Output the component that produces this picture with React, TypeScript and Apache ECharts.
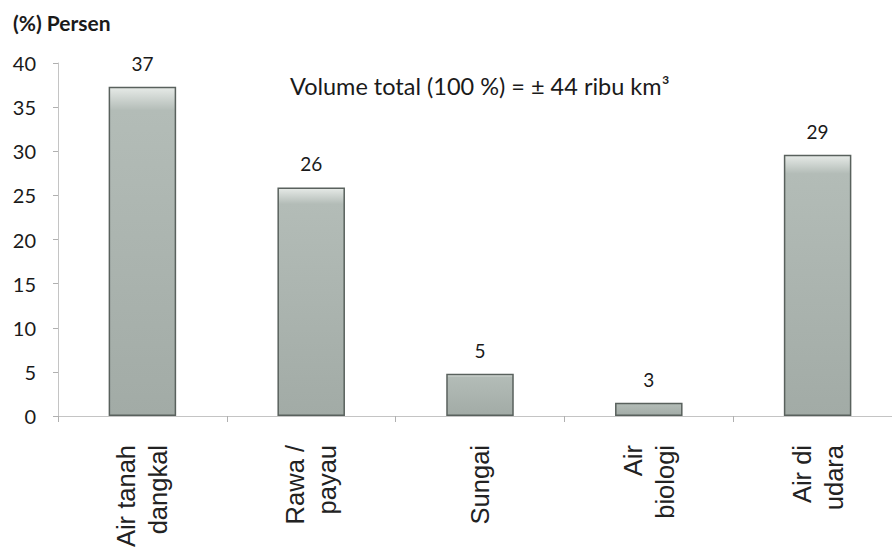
import React, { useEffect, useRef } from "react";
import * as echarts from "echarts";

const categories = ["Air tanah\ndangkal", "Rawa /\npayau", "Sungai", "Air\nbiologi", "Air di\nudara"];
const barValues = [37.3, 25.9, 4.8, 1.5, 29.6];
const barLabels = ["37", "26", "5", "3", "29"];
const yTicks = { min: 0, max: 40, interval: 5 };
const yTitle = "(%) Persen";
const note = "Volume total (100 %) = ± 44 ribu km³";

export default function App() {
  const ref = useRef<HTMLDivElement>(null);
  useEffect(() => {
    if (!ref.current) return;
    const chart = echarts.init(ref.current, null, { renderer: "svg" });
    chart.setOption({
      animation: false,
      backgroundColor: "#ffffff",
      grid: { left: 58, right: -10, top: 63, bottom: 136, outerBoundsMode: "none", containLabel: false },
      graphic: [
        {
          type: "text",
          left: 13,
          top: 12,
          style: { text: yTitle, font: "bold 21px Lato", fill: "#1a1a1a" },
        },
        {
          type: "text",
          left: 290,
          top: 74,
          style: { text: note, font: "23.5px Lato", fill: "#1a1a1a" },
        },
      ],
      xAxis: {
        type: "category",
        data: categories,
        axisLine: { show: true, lineStyle: { color: "#c4c4c4", width: 1 } },
        axisTick: { show: true, length: 6, lineStyle: { color: "#b0b0b0" } },
        axisLabel: {
          rotate: 90,
          margin: 29,
          fontFamily: "Liberation Sans",
          fontSize: 25.5,
          lineHeight: 32,
          color: "#222222",
        },
      },
      yAxis: {
        type: "value",
        min: yTicks.min,
        max: yTicks.max,
        interval: yTicks.interval,
        axisLine: { show: true, lineStyle: { color: "#c4c4c4", width: 1 } },
        axisTick: { show: true, length: 5, lineStyle: { color: "#b0b0b0" } },
        splitLine: { show: false },
        axisLabel: {
          margin: 22,
          fontFamily: "Lato",
          fontSize: 20,
          color: "#1a1a1a",
        },
      },
      series: [
        {
          type: "bar",
          data: barValues,
          barWidth: "40%",
          itemStyle: {
            color: new echarts.graphic.LinearGradient(0, 0, 0, 1, [
              { offset: 0, color: "#e6eae7" },
              { offset: 0.07, color: "#b3bcb7" },
              { offset: 1, color: "#a2aba6" },
            ]),
            borderColor: "#59615d",
            borderWidth: 1.5,
          },
          label: {
            show: true,
            position: "top",
            distance: 14,
            fontFamily: "Lato",
            fontSize: 19,
            color: "#1a1a1a",
            formatter: (p: any) => barLabels[p.dataIndex],
          },
        },
      ],
    });
    return () => chart.dispose();
  }, []);
  return (
    <div
      ref={ref}
      style={{ position: "fixed", left: 0, top: 0, width: 892, height: 552, background: "#fff" }}
    />
  );
}
